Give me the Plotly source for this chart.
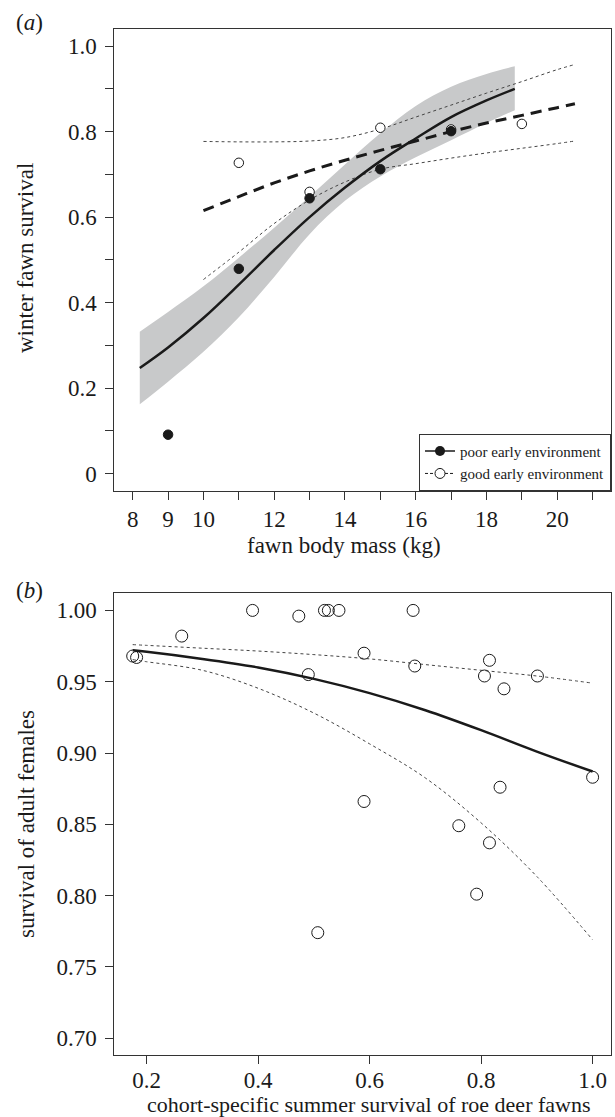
import plotly.graph_objects as go

# ---------------- Panel (a) data ----------------
poor_mass = [9, 11, 13, 15, 17]
poor_surv = [0.091, 0.479, 0.644, 0.712, 0.801]
good_mass = [11, 13, 15, 17, 19]
good_surv = [0.727, 0.659, 0.809, 0.805, 0.818]

poor_fit_x = [8.2, 9, 10, 11, 12, 13, 14, 15, 16, 17, 18, 18.8]
poor_fit_y = [0.247, 0.295, 0.364, 0.442, 0.523, 0.600, 0.669, 0.731, 0.784, 0.834, 0.873, 0.900]
poor_ci_hi = [0.332, 0.378, 0.438, 0.505, 0.575, 0.648, 0.723, 0.796, 0.860, 0.905, 0.935, 0.953]
poor_ci_lo = [0.162, 0.215, 0.285, 0.366, 0.460, 0.560, 0.638, 0.695, 0.740, 0.780, 0.820, 0.850]

good_fit_x = [10, 11, 12, 13, 14, 15, 16, 17, 18, 19, 20, 20.5]
good_fit_y = [0.615, 0.648, 0.680, 0.708, 0.733, 0.756, 0.778, 0.800, 0.820, 0.838, 0.856, 0.865]
good_ci_hi = [0.777, 0.776, 0.776, 0.778, 0.786, 0.806, 0.834, 0.862, 0.890, 0.917, 0.945, 0.957]
good_ci_lo = [0.454, 0.518, 0.585, 0.640, 0.682, 0.712, 0.725, 0.738, 0.750, 0.761, 0.772, 0.778]

a_xticks = [8, 9, 10, 11, 12, 13, 14, 15, 16, 17, 18, 19, 20, 21]
a_xlabels = ["8", "9", "10", "", "12", "", "14", "", "16", "", "18", "", "20", ""]
a_yticks = [0, 0.1, 0.2, 0.3, 0.4, 0.5, 0.6, 0.7, 0.8, 0.9, 1.0]
a_ylabels = ["0", "", "0.2", "", "0.4", "", "0.6", "", "0.8", "", "1.0"]

# ---------------- Panel (b) data ----------------
fawn_surv = [0.175, 0.182, 0.263, 0.390, 0.473, 0.490, 0.507, 0.519, 0.526, 0.545,
             0.590, 0.590, 0.678, 0.681, 0.760, 0.792, 0.806, 0.815, 0.815, 0.834,
             0.841, 0.901, 1.000]
female_surv = [0.968, 0.967, 0.982, 1.000, 0.996, 0.955, 0.774, 1.000, 1.000, 1.000,
               0.970, 0.866, 1.000, 0.961, 0.849, 0.801, 0.954, 0.965, 0.837, 0.876,
               0.945, 0.954, 0.883]

b_fit_x = [0.175, 0.2, 0.3, 0.4, 0.5, 0.6, 0.7, 0.8, 0.9, 1.0]
b_fit_y = [0.972, 0.971, 0.966, 0.960, 0.952, 0.942, 0.930, 0.916, 0.901, 0.887]
b_ci_hi = [0.976, 0.9755, 0.9735, 0.9715, 0.969, 0.966, 0.962, 0.958, 0.954, 0.949]
b_ci_lo = [0.9655, 0.964, 0.958, 0.9454, 0.928, 0.9064, 0.8825, 0.851, 0.8134, 0.769]

b_xticks = [0.2, 0.4, 0.6, 0.8, 1.0]
b_xlabels = ["0.2", "0.4", "0.6", "0.8", "1.0"]
b_yticks = [0.70, 0.75, 0.80, 0.85, 0.90, 0.95, 1.00]
b_ylabels = ["0.70", "0.75", "0.80", "0.85", "0.90", "0.95", "1.00"]

W, H = 615, 1117
FONT = "Liberation Serif"
INK = "#1a1a1a"
DOT = "#444444"

fig = go.Figure()

# ----- panel a -----
fig.add_trace(go.Scatter(x=poor_fit_x, y=poor_ci_hi, mode="lines", line=dict(width=0, shape="spline"),
                         showlegend=False, hoverinfo="skip", xaxis="x", yaxis="y"))
fig.add_trace(go.Scatter(x=poor_fit_x, y=poor_ci_lo, mode="lines", line=dict(width=0, shape="spline"),
                         fill="tonexty", fillcolor="rgb(200,201,202)",
                         showlegend=False, hoverinfo="skip", xaxis="x", yaxis="y"))
fig.add_trace(go.Scatter(x=good_fit_x, y=good_ci_hi, mode="lines",
                         line=dict(color=DOT, width=1, dash="3px,3px", shape="spline"),
                         showlegend=False, xaxis="x", yaxis="y"))
fig.add_trace(go.Scatter(x=good_fit_x, y=good_ci_lo, mode="lines",
                         line=dict(color=DOT, width=1, dash="3px,3px", shape="spline"),
                         showlegend=False, xaxis="x", yaxis="y"))
fig.add_trace(go.Scatter(x=poor_fit_x, y=poor_fit_y, mode="lines",
                         line=dict(color=INK, width=2.5, shape="spline"),
                         showlegend=False, xaxis="x", yaxis="y"))
fig.add_trace(go.Scatter(x=good_fit_x, y=good_fit_y, mode="lines",
                         line=dict(color=INK, width=3, dash="11px,7px", shape="spline"),
                         showlegend=False, xaxis="x", yaxis="y"))
fig.add_trace(go.Scatter(x=good_mass, y=good_surv, mode="markers",
                         marker=dict(size=9.5, color="white", line=dict(color=INK, width=1)),
                         showlegend=False, xaxis="x", yaxis="y"))
fig.add_trace(go.Scatter(x=poor_mass, y=poor_surv, mode="markers",
                         marker=dict(size=9.5, color=INK, line=dict(color=INK, width=1)),
                         showlegend=False, xaxis="x", yaxis="y"))
# legend entries
fig.add_trace(go.Scatter(x=[None], y=[None], mode="lines+markers", name="poor early environment",
                         line=dict(color=INK, width=1.5),
                         marker=dict(size=10, color=INK), xaxis="x", yaxis="y"))
fig.add_trace(go.Scatter(x=[None], y=[None], mode="lines+markers", name="good early environment",
                         line=dict(color=INK, width=1, dash="3px,2px"),
                         marker=dict(size=10, color="white", line=dict(color=INK, width=1)),
                         xaxis="x", yaxis="y"))

# ----- panel b -----
fig.add_trace(go.Scatter(x=b_fit_x, y=b_ci_hi, mode="lines",
                         line=dict(color=DOT, width=1, dash="3px,3px", shape="spline"),
                         showlegend=False, xaxis="x2", yaxis="y2"))
fig.add_trace(go.Scatter(x=b_fit_x, y=b_ci_lo, mode="lines",
                         line=dict(color=DOT, width=1, dash="3px,3px", shape="spline"),
                         showlegend=False, xaxis="x2", yaxis="y2"))
fig.add_trace(go.Scatter(x=b_fit_x, y=b_fit_y, mode="lines",
                         line=dict(color=INK, width=2.5, shape="spline"),
                         showlegend=False, xaxis="x2", yaxis="y2"))
fig.add_trace(go.Scatter(x=fawn_surv, y=female_surv, mode="markers",
                         marker=dict(size=12, color="rgba(0,0,0,0)", line=dict(color=INK, width=1)),
                         showlegend=False, xaxis="x2", yaxis="y2"))

xdom = [114.3 / W, 611 / W]
axis_common = dict(showline=True, linecolor="#333", linewidth=1, mirror=True,
                   ticks="outside", ticklen=8, tickwidth=1, tickcolor="#333",
                   showgrid=False, zeroline=False,
                   tickfont=dict(family=FONT, size=23, color=INK))

fig.update_layout(
    width=W, height=H,
    margin=dict(l=0, r=0, t=0, b=0),
    paper_bgcolor="white", plot_bgcolor="white",
    font=dict(family=FONT, color=INK),
    xaxis=dict(domain=xdom, range=[7.48, 21.52], tickvals=a_xticks, ticktext=a_xlabels,
               anchor="y", ticklabelstandoff=0, **axis_common),
    yaxis=dict(domain=[1 - 490.7 / H, 1 - 29 / H], range=[-0.04, 1.04], tickvals=a_yticks,
               ticktext=a_ylabels, anchor="x", ticklabelstandoff=4, **axis_common),
    xaxis2=dict(domain=xdom, range=[0.142, 1.033], tickvals=b_xticks, ticktext=b_xlabels,
                anchor="y2", ticklabelstandoff=-4, **axis_common),
    yaxis2=dict(domain=[1 - 1055.3 / H, 1 - 593.3 / H], range=[0.688, 1.012], tickvals=b_yticks,
                ticktext=b_ylabels, anchor="x2", ticklabelstandoff=4, **axis_common),
    showlegend=True,
    legend=dict(x=611 / W, xanchor="right", y=1 - 490.7 / H, yanchor="bottom",
                bordercolor="#333", borderwidth=1, bgcolor="white",
                font=dict(family=FONT, size=15, color=INK),
                itemwidth=30, tracegroupgap=0, traceorder="normal"),
)

def ann(text, px, py, angle=0, size=23):
    fig.add_annotation(text=text, x=px / W, y=1 - py / H, xref="paper", yref="paper",
                       showarrow=False, textangle=angle, xanchor="center", yanchor="middle",
                       font=dict(family=FONT, size=size, color=INK))

ann("(<i>a</i>)", 29, 22)
ann("(<i>b</i>)", 29, 590)
ann("winter fawn survival", 25, 258, angle=-90)
ann("fawn body mass (kg)", 344, 545)
ann("survival of adult females", 26, 824, angle=-90)
ann("cohort-specific summer survival of roe deer fawns", 369, 1104, size=22)

fig.write_html("out.html", config={"displayModeBar": False},
               post_script="document.body.style.margin='0';document.body.style.overflow='hidden';")
